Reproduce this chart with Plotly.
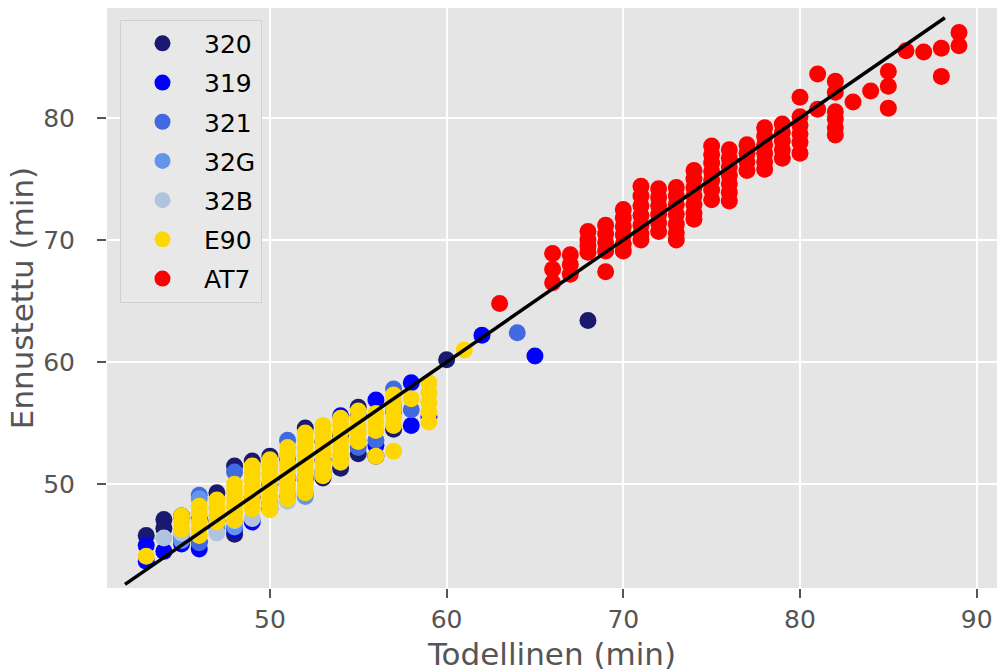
import plotly.graph_objects as go

# ---------------- data ----------------
categories = ["320", "319", "321", "32G", "32B", "E90", "AT7"]
colors = ["#191970", "#0000FF", "#4169E1", "#6495ED", "#B0C4DE", "#FFD700", "#FF0000"]

x_320 = [43, 44, 44, 45, 46, 47, 48, 48, 49, 50, 51, 52, 53, 54, 55, 55, 56, 57, 60, 68, 49, 50, 51, 53, 54]
y_320 = [45.8, 47.1, 46.4, 47.4, 47.2, 49.3, 51.5, 45.9, 51.9, 52.3, 50.5, 54.6, 50.5, 51.3, 56.3, 52.5,
         52.3, 54.5, 60.2, 63.4, 49.0, 50.0, 52.0, 53.5, 54.0]

x_319 = [43, 43, 44, 45, 46, 46, 47, 49, 50, 54, 55, 56, 56, 57, 58, 58, 59, 62, 65, 48, 52, 53]
y_319 = [45.0, 43.7, 44.5, 45.1, 44.7, 45.3, 47.0, 46.9, 48.0, 55.6, 55.6, 56.9, 53.2, 56.0, 58.3, 54.8,
         55.5, 62.2, 60.5, 46.3, 50.5, 52.0]

x_321 = [45, 46, 46, 48, 51, 53, 54, 55, 57, 58, 64, 50, 52, 47, 56]
y_321 = [45.6, 49.1, 45.2, 51.0, 53.6, 51.0, 52.0, 53.0, 57.8, 56.1, 62.4, 48.5, 49.2, 46.4, 53.6]

x_32G = [45, 46, 47, 48, 51, 52, 53, 57]
y_32G = [45.4, 48.8, 46.6, 46.5, 49.0, 49.0, 50.8, 56.5]

x_32B = [44, 45, 47, 48, 49, 50, 51, 52, 53, 54, 55]
y_32B = [45.6, 46.0, 46.0, 47.0, 47.2, 48.3, 48.6, 49.4, 50.8, 52.0, 53.6]

x_E90 = [43,
         45, 45, 45,
         46, 46, 46, 46, 46,
         47, 47, 47, 47,
         48, 48, 48, 48, 48, 48,
         49, 49, 49, 49, 49, 49, 49,
         50, 50, 50, 50, 50, 50, 50, 50,
         51, 51, 51, 51, 51, 51, 51, 51,
         52, 52, 52, 52, 52, 52, 52, 52, 52,
         53, 53, 53, 53, 53, 53, 53, 53,
         54, 54, 54, 54, 54, 54, 54,
         55, 55, 55, 55, 55,
         56, 56, 56, 56,
         57, 57, 57, 57, 57, 57,
         58,
         59, 59, 59, 59, 59,
         61]
y_E90 = [44.1,
         47.4, 46.9, 46.3,
         48.2, 47.6, 47.0, 46.4, 45.8,
         48.7, 48.1, 47.5, 46.9,
         50.0, 49.4, 48.8, 48.2, 47.6, 47.1,
         51.5, 50.9, 50.3, 49.7, 49.1, 48.5, 48.0,
         52.0, 51.4, 50.8, 50.2, 49.6, 49.0, 48.4, 47.9,
         53.0, 52.4, 51.8, 51.2, 50.6, 50.0, 49.4, 48.8,
         54.2, 53.6, 53.0, 52.4, 51.8, 51.2, 50.6, 50.0, 49.3,
         54.8, 54.2, 53.6, 53.0, 52.4, 51.8, 51.2, 50.7,
         55.4, 54.8, 54.2, 53.6, 53.0, 52.4, 51.8,
         56.0, 55.4, 54.8, 54.2, 53.5,
         55.8, 55.1, 54.4, 52.3,
         57.3, 56.7, 56.1, 55.5, 54.8, 52.7,
         57.0,
         58.3, 57.5, 56.7, 55.9, 55.1,
         61.0]

x_AT7 = [63,
         66, 66, 66,
         67, 67, 67,
         68, 68, 68, 68,
         69, 69, 69, 69, 69,
         70, 70, 70, 70, 70, 70,
         71, 71, 71, 71, 71, 71, 71,
         72, 72, 72, 72, 72, 72,
         73, 73, 73, 73, 73, 73, 73,
         74, 74, 74, 74, 74, 74, 74,
         75, 75, 75, 75, 75, 75, 75,
         76, 76, 76, 76, 76, 76, 76,
         77, 77, 77, 77,
         78, 78, 78, 78, 78, 78,
         79, 79, 79, 79, 79,
         80, 80, 80, 80, 80, 80,
         81, 81,
         82, 82, 82, 82, 82, 82,
         83,
         84,
         85, 85, 85,
         86,
         87,
         88, 88,
         89, 89]
y_AT7 = [64.8,
         68.9, 67.6, 66.5,
         68.8, 68.0, 67.2,
         70.7, 70.0, 69.5, 69.0,
         71.2, 70.5, 69.8, 69.1, 67.4,
         72.5, 71.8, 71.1, 70.4, 69.7, 69.1,
         74.4, 73.6, 72.8, 72.0, 71.2, 70.5, 70.0,
         74.2, 73.5, 72.8, 72.1, 71.4, 70.7,
         74.3, 73.6, 72.9, 72.1, 71.3, 70.6, 70.0,
         75.7, 75.0, 74.3, 73.6, 72.9, 72.2, 71.7,
         77.7, 77.0, 76.3, 75.6, 74.9, 74.1, 73.3,
         77.4, 76.7, 76.0, 75.3, 74.6, 73.9, 73.2,
         77.8, 77.1, 76.4, 75.7,
         79.2, 78.5, 77.8, 77.1, 76.4, 75.8,
         79.5, 78.8, 78.1, 77.4, 76.7,
         81.7, 80.1, 79.4, 78.7, 78.0, 77.1,
         83.6, 80.7,
         83.0, 82.1, 80.5, 79.9, 79.2, 78.6,
         81.3,
         82.2,
         83.8, 82.6, 80.8,
         85.5,
         85.4,
         85.7, 83.4,
         87.0, 85.9]

ref_line = [41.8, 88.2]

x_ticks = [50, 60, 70, 80, 90]
y_ticks = [50, 60, 70, 80]

series_x = [x_320, x_319, x_321, x_32G, x_32B, x_E90, x_AT7]
series_y = [y_320, y_319, y_321, y_32G, y_32B, y_E90, y_AT7]

# ---------------- figure ----------------
FONT = "DejaVu Sans"
fig = go.Figure()
for name, col, xs, ys in zip(categories, colors, series_x, series_y):
    fig.add_trace(go.Scatter(
        x=xs, y=ys, mode="markers", name=name, legendgroup=name,
        marker=dict(color=col, size=17, line=dict(width=0)),
    ))

fig.add_trace(go.Scatter(
    x=ref_line, y=ref_line, mode="lines", showlegend=False,
    line=dict(color="black", width=3.5),
))

axis_common = dict(
    showgrid=True, gridcolor="white", gridwidth=2,
    zeroline=False, showline=False,
    ticks="outside", ticklen=9, tickwidth=2, tickcolor="#555555",
    tickfont=dict(family=FONT, size=25, color="#555555"),
    title_font=dict(family=FONT, size=31, color="#555555"),
)

fig.update_xaxes(range=[40.78, 91.15], tickvals=x_ticks, title_text="Todellinen (min)",
                 title_standoff=10, **axis_common)
fig.update_yaxes(range=[41.5, 89.0], tickvals=y_ticks, title_text="Ennustettu (min)",
                 title_standoff=0, ticklabelstandoff=17, **axis_common)

fig.update_layout(
    width=1000, height=672,
    margin=dict(l=107, r=3, t=8, b=84),
    plot_bgcolor="#E5E5E5", paper_bgcolor="white",
    font=dict(family=FONT),
    legend=dict(
        x=0.0146, y=0.98, xanchor="left", yanchor="top",
        bgcolor="#E8E8E8", bordercolor="#D0D0D0", borderwidth=1,
        font=dict(family=FONT, size=25, color="black"),
        traceorder="grouped", tracegroupgap=3.7, itemwidth=73,
    ),
)

fig.write_html("out.html")
